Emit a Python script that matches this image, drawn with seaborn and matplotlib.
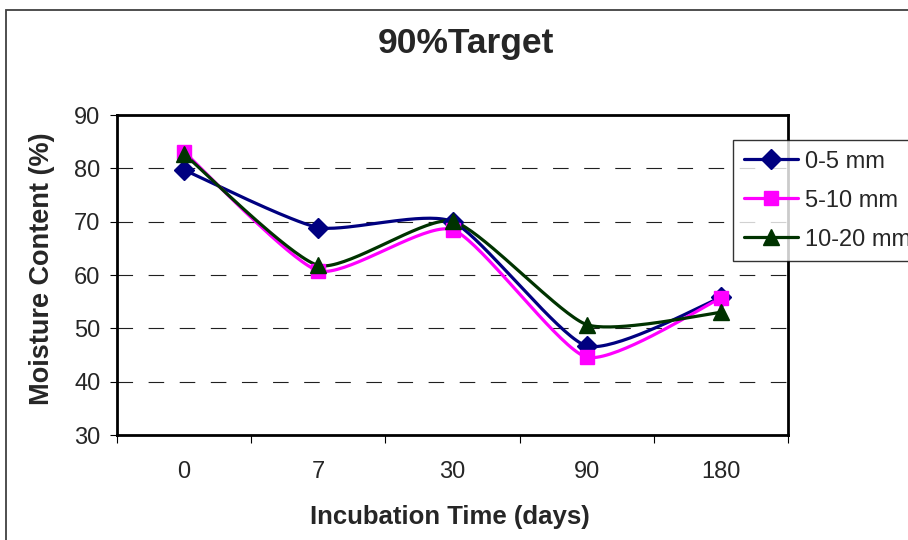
import numpy as np
import pandas as pd
import matplotlib
matplotlib.use("Agg")
import matplotlib.pyplot as plt
from matplotlib.lines import Line2D
from matplotlib.patches import Rectangle
import seaborn as sns

# Moisture content (%) by incubation time, per soil depth layer
days = ["0", "7", "30", "90", "180"]
layer_0_5 = [79.7, 68.9, 70.0, 46.7, 55.8]
layer_5_10 = [83.1, 60.8, 68.5, 44.6, 55.7]
layer_10_20 = [82.7, 61.8, 70.1, 50.7, 53.0]
series_names = ["0-5 mm", "5-10 mm", "10-20 mm"]
y_ticks = [30, 40, 50, 60, 70, 80, 90]

colors = ["#000080", "#FF00FF", "#003300"]
markers = ["D", "s", "^"]
marker_sizes = [10, 10, 11]

sns.set_theme(style="white")
plt.rcParams["font.family"] = ["Liberation Sans", "DejaVu Sans"]


def smooth_curve(values, steps=40, tension=0.1):
    """Cubic Bezier smoothing through the points (spreadsheet-style smoothed line)."""
    pts = np.column_stack([np.arange(len(values), dtype=float), np.asarray(values, float)])
    n = len(pts)
    out = []
    t = np.linspace(0, 1, steps)[:, None]
    for i in range(n - 1):
        p0 = pts[max(i - 1, 0)]
        p1 = pts[i]
        p2 = pts[i + 1]
        p3 = pts[min(i + 2, n - 1)]
        c1 = p1 + (p2 - p0) * tension
        c2 = p2 - (p3 - p1) * tension
        seg = ((1 - t) ** 3) * p1 + 3 * ((1 - t) ** 2) * t * c1 + 3 * (1 - t) * t ** 2 * c2 + t ** 3 * p2
        out.append(seg if i == 0 else seg[1:])
    return np.vstack(out)


all_series = [layer_0_5, layer_5_10, layer_10_20]
curve_frames = []
point_frames = []
for name, vals in zip(series_names, all_series):
    c = smooth_curve(vals)
    curve_frames.append(pd.DataFrame({"x": c[:, 0], "y": c[:, 1], "layer": name}))
    point_frames.append(pd.DataFrame({"x": np.arange(len(vals)), "y": vals, "layer": name}))
curves = pd.concat(curve_frames, ignore_index=True)
points = pd.concat(point_frames, ignore_index=True)

W, H = 908, 540
fig = plt.figure(figsize=(W / 100, H / 100), dpi=100)
fig.patch.set_facecolor("white")

# outer chart-area frame
fig.add_artist(Rectangle((6 / W, -0.2), 1.2, 1.2 - 10 / H, transform=fig.transFigure,
                         fill=False, edgecolor="#404040", linewidth=1.3))

left, right, top, bottom = 117 / W, 788 / W, 1 - 115 / H, 1 - 435 / H
ax = fig.add_axes([left, bottom, right - left, top - bottom])
ax.set_facecolor("white")

palette = dict(zip(series_names, colors))
sns.lineplot(data=curves, x="x", y="y", hue="layer", palette=palette, sort=False,
             estimator=None, linewidth=2.3, legend=False, ax=ax, zorder=3)
for name, col, mk, ms in zip(series_names, colors, markers, marker_sizes):
    sub = points[points["layer"] == name]
    ax.plot(sub["x"], sub["y"], linestyle="none", marker=mk, markersize=ms,
            color=col, markeredgecolor=col, zorder=4)

ax.set_xlim(-0.5, len(days) - 0.5)
ax.set_ylim(30, 90)

# dashed gridlines at interior y-ticks
for yv in y_ticks[1:-1]:
    ax.axhline(yv, color="#202020", linewidth=0.8, linestyle=(0, (14, 14)), zorder=1)

for sp in ax.spines.values():
    sp.set_color("black")
    sp.set_linewidth(2.0)
    sp.set_visible(True)

ax.set_yticks(y_ticks)
ax.set_yticklabels([str(v) for v in y_ticks])
ax.tick_params(axis="y", direction="out", length=5, width=0.8, color="black",
               labelsize=17, pad=7, left=True)

ax.set_xticks(np.arange(-0.5, len(days), 1.0))
ax.set_xticklabels([])
ax.set_xticks(np.arange(len(days)), minor=True)
ax.set_xticklabels(days, minor=True)
ax.tick_params(axis="x", which="major", direction="out", length=6, width=0.8, color="black", bottom=True)
ax.tick_params(axis="x", which="minor", length=0, labelsize=17, pad=19)

ax.set_xlabel("")
ax.set_ylabel("")
fig.text(450 / W, 1 - 517 / H, "Incubation Time (days)", ha="center", va="center",
         fontsize=18.5, fontweight="bold")
fig.text(42 / W, 1 - 269 / H, "Moisture Content (%)", ha="center", va="center",
         rotation=90, fontsize=19.5, fontweight="bold")
fig.text(466 / W, 1 - 44 / H, "90%Target", ha="center", va="center",
         fontsize=25.5, fontweight="bold")

handles = [Line2D([0], [0], color=c, marker=m, markersize=ms, linewidth=2.3,
                  markeredgecolor=c) for c, m, ms in zip(colors, markers, marker_sizes)]
leg = fig.legend(handles, series_names, loc="upper left",
                 bbox_to_anchor=(733 / W, 1 - 140 / H), bbox_transform=fig.transFigure,
                 fontsize=17, frameon=True, fancybox=False, shadow=False,
                 handlelength=2.3, handletextpad=0.3, labelspacing=0.72,
                 borderpad=0.45, borderaxespad=0, numpoints=1)
leg.get_frame().set_edgecolor("black")
leg.get_frame().set_linewidth(1.0)

fig.savefig("out.png", dpi=100, facecolor="white")
